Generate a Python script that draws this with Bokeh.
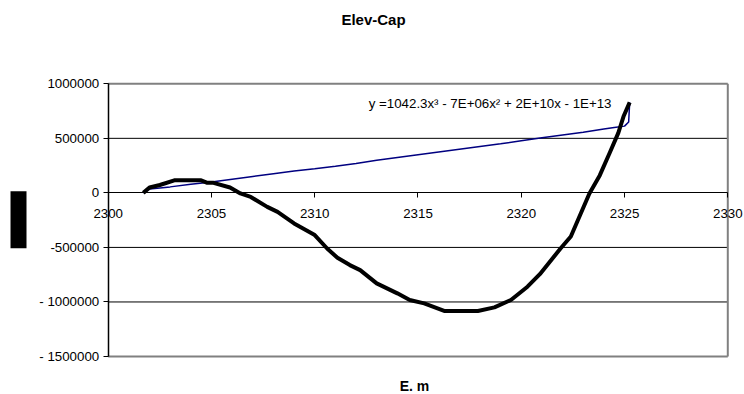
from bokeh.plotting import figure
from bokeh.models import Range1d, FixedTicker, Label, BoxAnnotation
from bokeh.embed import file_html
from bokeh.resources import INLINE

# ---- data ----
title_text = "Elev-Cap"
x_title = "E. m"
equation_text = "y =1042.3x\u00b3 - 7E+06x\u00b2 + 2E+10x - 1E+13"

x_min, x_max = 2300, 2330
y_min, y_max = -1500000, 1000000
x_ticks = [2300, 2305, 2310, 2315, 2320, 2325, 2330]
y_ticks = [-1500000, -1000000, -500000, 0, 500000, 1000000]
y_labels = ["- 1500000", "- 1000000", "-500000", "0", "500000", "1000000"]
grid_values = [-1000000, -500000, 500000]

# blue series (Elev-Cap)
blue_x = [2301.7, 2302.0, 2303.0, 2304.0, 2305.0, 2306.0, 2307.0, 2308.0, 2309.0,
          2310.0, 2311.0, 2312.0, 2313.0, 2314.0, 2315.0, 2316.0, 2317.0, 2318.0,
          2319.0, 2320.0, 2321.0, 2322.0, 2323.0, 2324.0, 2324.5, 2325.0, 2325.2, 2325.25]
blue_y = [0, 35000, 55000, 80000, 100000, 125000, 150000, 175000, 200000,
          222000, 245000, 270000, 300000, 325000, 350000, 375000, 400000, 425000,
          450000, 478000, 505000, 530000, 555000, 585000, 600000, 612000, 650000, 830000]

# black thick curve
black_x = [2301.7, 2302.0, 2302.5, 2303.2, 2304.5, 2304.8, 2305.1, 2305.9, 2306.4,
           2306.9, 2307.7, 2308.2, 2309.0, 2310.0, 2310.6, 2311.1, 2311.7, 2312.2,
           2313.0, 2314.0, 2314.6, 2315.3, 2316.3, 2317.9, 2318.7, 2319.5, 2320.3,
           2320.9, 2321.9, 2322.4, 2323.3, 2323.8, 2324.3, 2324.7, 2324.95, 2325.25]
black_y = [0, 49000, 72000, 115000, 115000, 92000, 92000, 49000, -5000,
           -37000, -128000, -174000, -280000, -387000, -510000, -595000, -662000, -708000,
           -830000, -921000, -982000, -1013000, -1083000, -1083000, -1050000, -982000, -860000,
           -745000, -510000, -400000, -5000, 160000, 375000, 550000, 700000, 830000]

FONT = "Liberation Sans"
W, H = 744, 394

# the frame covers the whole canvas; the visible plot box is drawn inside it
p = figure(width=W, height=H, output_backend="svg", toolbar_location=None,
           x_range=Range1d(2294.785, 2330.809), y_range=Range1d(-1848370, 1763660),
           min_border_left=0, min_border_right=0, min_border_top=0, min_border_bottom=0)
p.background_fill_color = "white"
p.border_fill_color = "white"
p.outline_line_color = None
p.xgrid.grid_line_color = None
p.ygrid.grid_line_color = None

# horizontal gridlines limited to the plot box
p.segment(x0=[x_min] * len(grid_values), x1=[x_max] * len(grid_values),
          y0=grid_values, y1=grid_values, line_color="black", line_width=1)

# plot-area border (grey)
p.segment(x0=[x_min, x_max, x_min], x1=[x_max, x_max, x_max],
          y0=[y_max, y_min, y_min], y1=[y_max, y_max, y_min],
          line_color="#808080", line_width=2)

# x axis crossing at y = 0
p.xaxis.ticker = FixedTicker(ticks=x_ticks)
p.xaxis.fixed_location = 0
p.xaxis.bounds = (x_min, x_max)
p.xaxis.axis_line_color = "black"
p.xaxis.axis_line_width = 1
p.xaxis.major_tick_line_color = "black"
p.xaxis.major_tick_out = 5
p.xaxis.major_tick_in = 0
p.xaxis.minor_tick_line_color = None
p.xaxis.major_label_standoff = 11
p.xaxis.major_label_text_font = FONT
p.xaxis.major_label_text_font_size = "13.3px"
p.xaxis.major_label_text_color = "black"

# y axis at x = 2300
p.yaxis.ticker = FixedTicker(ticks=y_ticks)
p.yaxis.fixed_location = x_min
p.yaxis.bounds = (y_min, y_max)
p.yaxis.major_label_overrides = {t: l for t, l in zip(y_ticks, y_labels)}
p.yaxis.axis_line_color = "black"
p.yaxis.axis_line_width = 1.5
p.yaxis.major_tick_line_color = "black"
p.yaxis.major_tick_out = 5
p.yaxis.major_tick_in = 0
p.yaxis.minor_tick_line_color = None
p.yaxis.major_label_standoff = 4
p.yaxis.major_label_text_font = FONT
p.yaxis.major_label_text_font_size = "13.3px"
p.yaxis.major_label_text_color = "black"

p.line(blue_x, blue_y, line_color="#000080", line_width=1.5)
p.line(black_x, black_y, line_color="black", line_width=4, line_join="round")

p.add_layout(Label(x=2324.37, y=819400, text=equation_text, text_align="right",
                   text_baseline="middle", text_font=FONT, text_font_size="13.3px",
                   text_color="black"))

p.add_layout(Label(x=2312.845, y=1589500, text=title_text, text_align="center",
                   text_baseline="middle", text_font=FONT, text_font_size="15px",
                   text_font_style="bold", text_color="black"))
p.add_layout(Label(x=2314.83, y=-1775000, text=x_title, text_align="center",
                   text_baseline="middle", text_font=FONT, text_font_size="14px",
                   text_font_style="bold", text_color="black"))

# black block at the y-axis title position
p.add_layout(BoxAnnotation(left=2295.27, right=2296.044, top=15400, bottom=-507150,
                           fill_color="black", fill_alpha=1.0, line_color=None,
                           line_alpha=0))

open("out.html", "w").write(file_html(p, INLINE))
